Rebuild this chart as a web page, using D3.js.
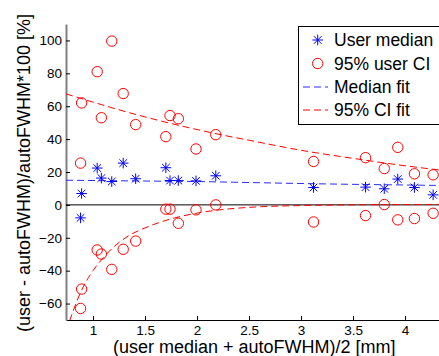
<!DOCTYPE html>
<html>
<head>
<meta charset="utf-8">
<script src="https://cdn.jsdelivr.net/npm/d3@7"></script>
<style>
  body { margin: 0; background: #fff; }
  svg { display: block; font-family: "Liberation Sans", Arial, sans-serif; }
</style>
</head>
<body>
<div id="chart"></div>
<script>
// point x positions: (user median + autoFWHM)/2 [mm]
var sizeX = [0.88, 0.89, 1.04, 1.08, 1.18, 1.29, 1.41, 1.70, 1.74, 1.82, 1.99, 2.18, 3.12, 3.62, 3.80, 3.93, 4.09, 4.27];
// user median difference [%]
var userMedian = [-7.9, 6.9, 22.4, 16.3, 14.2, 25.4, 15.9, 22.6, 14.8, 14.8, 14.6, 17.7, 10.6, 10.8, 9.8, 15.7, 10.6, 6.1];
// 95% user CI, upper and lower bounds
var ciHigh = [25.4, 62.0, 81, 53, 99.6, 67.7, 48.8, 41.5, 54.3, 52.4, 34, 42.7, 26.4, 28.7, 22.1, 35, 18.9, 18.3];
var ciLow = [-63, -51.2, -27.4, -29.9, -39.2, -27, -22, -2.6, -2.6, -11.2, -3, 0, -10.4, -6.5, 0.2, -9.1, -8.3, -5.1];

// fitted curves
var medFitX = [0.74, 1.5, 2.0, 2.5, 3.0, 3.5, 4.0, 4.36];
var medFitY = [15, 14.5, 14.2, 13.6, 13.0, 12.5, 12.1, 11.8];
var hiFitX = [0.74, 1.0, 1.25, 1.5, 1.75, 2.0, 2.25, 2.5, 3.0, 3.5, 4.0, 4.36];
var hiFitY = [67.5, 62.5, 57.8, 53.5, 49.5, 45.8, 42.4, 39.3, 33.2, 28.3, 23.8, 21.0];
var loFitX = [0.74, 0.8, 0.9, 1.0, 1.1, 1.2, 1.35, 1.5, 1.75, 2.0, 2.25, 2.5, 3.0, 3.5, 4.36];
var loFitY = [-77, -66, -50.5, -40, -32, -25.5, -18.5, -14, -8.5, -5, -2.8, -1.5, -0.4, 0, 0.3];

var xTicks = [1, 1.5, 2, 2.5, 3, 3.5, 4];
var yTicks = [-60, -40, -20, 0, 20, 40, 60, 80, 100];
var legendItems = ["User median", "95% user CI", "Median fit", "95% CI fit"];

(function(){
var W = 439, H = 356;
var m = {left: 66, right: 442.5, top: 24, bottom: 320};

var svg = d3.select("#chart").append("svg")
    .attr("width", W)
    .attr("height", H);

var x = d3.scaleLinear().domain([0.74, 4.36]).range([m.left, m.right]);
var y = d3.scaleLinear().domain([-70, 110]).range([m.bottom, m.top]);

svg.append("clipPath").attr("id", "plotclip")
  .append("rect")
    .attr("x", m.left).attr("y", m.top)
    .attr("width", m.right - m.left).attr("height", m.bottom - m.top);

// x axis, ticks inward
var xAxis = svg.append("g")
    .attr("transform", "translate(0," + m.bottom + ")")
    .call(d3.axisBottom(x).tickValues(xTicks).tickSize(-4).tickSizeOuter(0).tickFormat(d3.format("")));
xAxis.select(".domain").attr("stroke", "#000").attr("stroke-width", 1);
xAxis.selectAll(".tick line").attr("stroke", "#000");
xAxis.selectAll(".tick text")
    .attr("y", 5)
    .attr("font-size", "13.5px")
    .attr("font-family", "Liberation Sans, Arial, sans-serif")
    .attr("fill", "#000");

// y axis
var yAxis = svg.append("g")
    .attr("transform", "translate(" + m.left + ",0)")
    .call(d3.axisLeft(y).tickValues(yTicks).tickSize(-4).tickSizeOuter(0));
yAxis.select(".domain").attr("stroke", "#808080").attr("stroke-width", 2);
yAxis.selectAll(".tick line").attr("stroke", "#000");
yAxis.selectAll(".tick text")
    .attr("x", -4)
    .attr("font-size", "13.5px")
    .attr("font-family", "Liberation Sans, Arial, sans-serif")
    .attr("fill", "#000");

// zero line
svg.append("line")
    .attr("x1", m.left).attr("x2", m.right)
    .attr("y1", y(0)).attr("y2", y(0))
    .attr("stroke", "#000").attr("stroke-width", 1);

// fit lines
var fitLine = d3.line()
    .x(function(d) { return x(d[0]); })
    .y(function(d) { return y(d[1]); })
    .curve(d3.curveMonotoneX);

var plot = svg.append("g").attr("clip-path", "url(#plotclip)");

plot.append("path")
    .attr("d", fitLine(d3.zip(medFitX, medFitY)))
    .attr("fill", "none").attr("stroke", "#2a2aff").attr("stroke-width", 1)
    .attr("stroke-dasharray", "7,4");
plot.append("path")
    .attr("d", fitLine(d3.zip(hiFitX, hiFitY)))
    .attr("fill", "none").attr("stroke", "#ff0000").attr("stroke-width", 1)
    .attr("stroke-dasharray", "7,4");
plot.append("path")
    .attr("d", fitLine(d3.zip(loFitX, loFitY)))
    .attr("fill", "none").attr("stroke", "#ff0000").attr("stroke-width", 1)
    .attr("stroke-dasharray", "7,4");

// star marker path
function star(cx, cy, r) {
  var d = r * 0.72;
  return "M" + (cx - r) + "," + cy + "H" + (cx + r) +
         "M" + cx + "," + (cy - r) + "V" + (cy + r) +
         "M" + (cx - d) + "," + (cy - d) + "L" + (cx + d) + "," + (cy + d) +
         "M" + (cx - d) + "," + (cy + d) + "L" + (cx + d) + "," + (cy - d);
}

var ciPts = sizeX.map(function(v, i) { return [v, ciHigh[i]]; })
    .concat(sizeX.map(function(v, i) { return [v, ciLow[i]]; }));

svg.append("g").selectAll("circle")
    .data(ciPts)
    .enter()
    .append("circle")
    .attr("cx", function(d) { return x(d[0]); })
    .attr("cy", function(d) { return y(d[1]); })
    .attr("r", 5.2)
    .attr("fill", "none")
    .attr("stroke", "#ff0000")
    .attr("stroke-width", 1);

svg.append("g").selectAll("path")
    .data(d3.zip(sizeX, userMedian))
    .enter()
    .append("path")
    .attr("d", function(d) { return star(x(d[0]), y(d[1]), 5.3); })
    .attr("fill", "none")
    .attr("stroke", "#0000ff")
    .attr("stroke-width", 1);

// legend
var lg = svg.append("g");
lg.append("rect")
    .attr("x", 298.5).attr("y", 26.5)
    .attr("width", 160).attr("height", 98)
    .attr("fill", "#fff").attr("stroke", "#000").attr("stroke-width", 1);

var rowY = [40, 63.5, 87, 110];
lg.append("path").attr("d", star(317.7, rowY[0], 5.3))
    .attr("fill", "none").attr("stroke", "#0000ff");
lg.append("circle").attr("cx", 317.7).attr("cy", rowY[1]).attr("r", 5.2)
    .attr("fill", "none").attr("stroke", "#ff0000");
lg.append("line").attr("x1", 303).attr("x2", 328).attr("y1", rowY[2]).attr("y2", rowY[2])
    .attr("stroke", "#2a2aff").attr("stroke-dasharray", "7,4");
lg.append("line").attr("x1", 303).attr("x2", 328).attr("y1", rowY[3]).attr("y2", rowY[3])
    .attr("stroke", "#ff0000").attr("stroke-dasharray", "7,4");

lg.selectAll("text")
    .data(legendItems)
    .enter()
    .append("text")
    .attr("x", 334)
    .attr("y", function(d, i) { return rowY[i]; })
    .attr("dy", "0.36em")
    .attr("font-size", "17.5px")
    .attr("fill", "#000")
    .text(function(d) { return d; });

// axis labels
svg.append("text")
    .attr("x", (m.left + m.right) / 2)
    .attr("y", 353)
    .attr("text-anchor", "middle")
    .attr("font-size", "18px")
    .attr("fill", "#000")
    .text("(user median + autoFWHM)/2 [mm]");

svg.append("text")
    .attr("transform", "translate(30," + 173 + ") rotate(-90)")
    .attr("text-anchor", "middle")
    .attr("font-size", "18px")
    .attr("fill", "#000")
    .text("(user - autoFWHM)/autoFWHM*100 [%]");
})();
</script>
</body>
</html>
